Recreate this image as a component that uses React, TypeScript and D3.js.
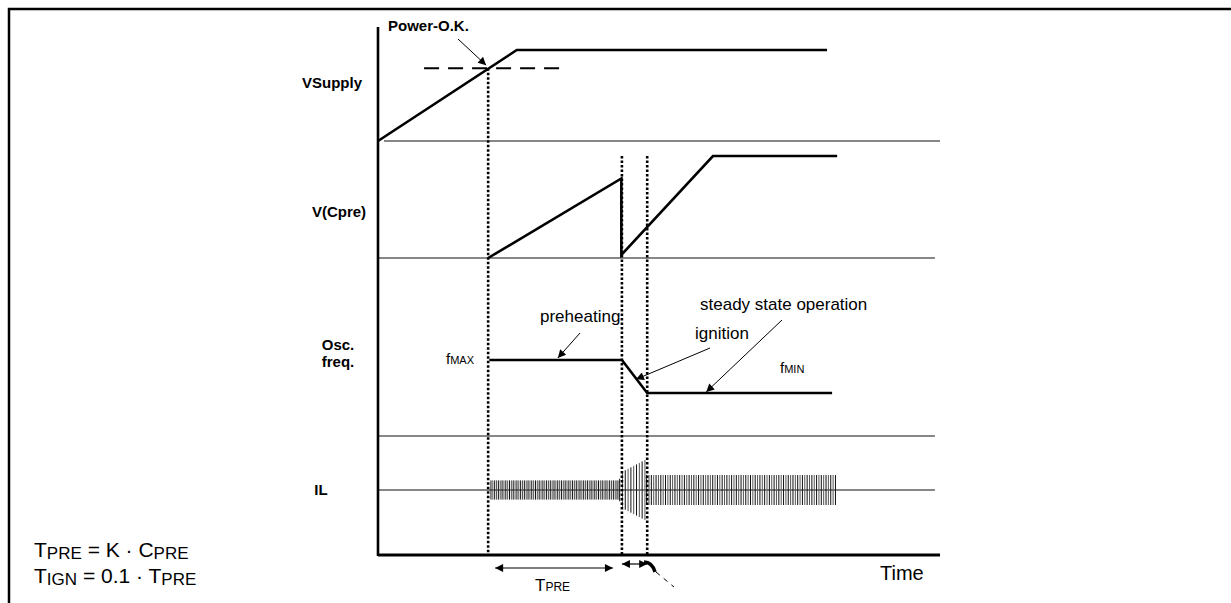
import React from 'react';
import * as d3 from 'd3';

const W = 1231;
const H = 603;
const FONT = '"Liberation Sans", Arial, sans-serif';

// time runs 0..100 (arbitrary units) along the bottom axis
const supplyT = [0, 24.7, 79.9];
const supplyV = [0, 1, 1];
const powerOkLevel = 0.8;
const powerOkSpan = [8.2, 32.7];

const cpreT = [19.6, 43.3, 43.3, 59.6, 81.7];
const cpreV = [0, 0.78, 0.03, 1, 1];

const freqT = [19.8, 43.4, 47.9, 80.8];
const freqV = [0.76, 0.76, 0.43, 0.43];

// lamp current envelope and cycle period per phase (preheat, ignition, steady)
const ilEnvT = [20.1, 42.9, 43.4, 47.5, 47.8, 81.5];
const ilEnvA = [0.32, 0.32, 0.6, 1.0, 0.5, 0.5];
const ilPhaseT = [20.1, 43.0, 47.8, 81.5];
const ilPeriod = [0.33, 0.5, 0.42];

// power-ok, end of preheat, end of ignition
const markerT = [19.6, 43.4, 47.9];

const laneLabels = ['VSupply', 'V(Cpre)', 'Osc.', 'freq.', 'IL'];
const notes = ['Power-O.K.', 'preheating', 'ignition', 'steady state operation'];

export default function App() {
  const x = d3.scaleLinear().domain([0, 100]).range([378, 940]);
  const ySup = d3.scaleLinear().domain([0, 1]).range([141, 50]);
  const yCpre = d3.scaleLinear().domain([0, 1]).range([258, 156]);
  const yFreq = d3.scaleLinear().domain([0, 1]).range([436, 336]);
  const yIL = d3.scaleLinear().domain([-1, 1]).range([520, 460]);
  const env = d3.scaleLinear().domain(ilEnvT).range(ilEnvA).clamp(true);

  const mk = (ts: number[], vs: number[], y: d3.ScaleLinear<number, number>) =>
    d3.line<number>().x((_, i) => x(ts[i])).y((v) => y(v))(vs) as string;

  const cycles: { t: number; k: number }[] = [];
  ilPeriod.forEach((p, i) => {
    d3.range(ilPhaseT[i], ilPhaseT[i + 1], p).forEach((t, k) => cycles.push({ t, k }));
  });

  const yAxisBottom = 555;
  const trace = { fill: 'none', stroke: '#000', strokeWidth: 2.6 };
  const thin = { stroke: '#111', strokeWidth: 1.1 };
  const bold = { fontFamily: FONT, fontWeight: 700, fontSize: 15 };
  const plain = { fontFamily: FONT, fontSize: 17 };

  const pokX = x(markerT[0]);
  const pokY = ySup(powerOkLevel);
  const ignMid = (markerT[1] + markerT[2]) / 2 + 0.3;
  const freqSlope = d3.scaleLinear().domain([freqT[1], freqT[2]]).range([freqV[1], freqV[2]]);

  return (
    <svg width={W} height={H} style={{ position: 'absolute', left: 0, top: 0, background: '#fff' }}>
      <defs>
        <marker id="ah" viewBox="0 0 10 10" refX="10" refY="5" markerWidth="11" markerHeight="8"
          markerUnits="userSpaceOnUse" orient="auto-start-reverse">
          <path d="M0,0 L10,5 L0,10 z" fill="#000" />
        </marker>
      </defs>

      {/* frame */}
      <path d={`M9,${H} V9 H${W}`} fill="none" stroke="#000" strokeWidth={2.5} />

      {/* lane baselines */}
      <line x1={384} x2={x(100)} y1={ySup(0)} y2={ySup(0)} {...thin} />
      <line x1={x(0)} x2={x(99.1)} y1={yCpre(0)} y2={yCpre(0)} {...thin} />
      <line x1={x(0)} x2={x(99.1)} y1={yFreq(0)} y2={yFreq(0)} {...thin} />
      <line x1={x(0)} x2={x(99.1)} y1={yIL(0)} y2={yIL(0)} {...thin} />

      {/* IL oscillation */}
      <g>
        {cycles.map((c, i) => {
          const a = env(c.t);
          return (
            <line key={i} x1={x(c.t)} x2={x(c.t)} y1={yIL(-a)} y2={yIL(a)}
              stroke={c.k % 2 ? '#555' : '#111'} strokeWidth={1} />
          );
        })}
      </g>

      {/* dotted markers */}
      {markerT.map((t, i) => (
        <line key={i} x1={x(t)} x2={x(t)} y1={i === 0 ? pokY : yCpre(1)} y2={yAxisBottom}
          stroke="#000" strokeWidth={2.6} strokeDasharray="2.5,2" />
      ))}

      {/* power ok threshold */}
      <line x1={x(powerOkSpan[0])} x2={x(powerOkSpan[1])} y1={pokY} y2={pokY}
        stroke="#000" strokeWidth={2} strokeDasharray="15,9" />

      {/* traces */}
      <path d={mk(supplyT, supplyV, ySup)} {...trace} />
      <path d={mk(cpreT, cpreV, yCpre)} {...trace} />
      <path d={mk(freqT, freqV, yFreq)} {...trace} />

      {/* axes */}
      <line x1={x(0)} x2={x(0)} y1={27} y2={yAxisBottom + 1} stroke="#000" strokeWidth={2.6} />
      <line x1={x(0)} x2={x(100)} y1={yAxisBottom} y2={yAxisBottom} stroke="#000" strokeWidth={3} />

      {/* lane labels */}
      <text x={332} y={88} textAnchor="middle" {...bold}>{laneLabels[0]}</text>
      <text x={339} y={217} textAnchor="middle" {...bold}>{laneLabels[1]}</text>
      <text x={338} y={350} textAnchor="middle" {...bold}>{laneLabels[2]}</text>
      <text x={338} y={367} textAnchor="middle" {...bold}>{laneLabels[3]}</text>
      <text x={321} y={495} textAnchor="middle" {...bold}>{laneLabels[4]}</text>

      {/* annotations */}
      <text x={388} y={31} {...bold}>{notes[0]}</text>
      <line x1={458} y1={39} x2={pokX - 2} y2={pokY - 3} stroke="#000" strokeWidth={1} markerEnd="url(#ah)" />

      <text x={540} y={322} {...plain}>{notes[1]}</text>
      <line x1={580} y1={333} x2={x(32)} y2={yFreq(freqV[0]) - 2} stroke="#000" strokeWidth={1} markerEnd="url(#ah)" />

      <text x={695} y={339} {...plain}>{notes[2]}</text>
      <line x1={710} y1={348} x2={x(45.9)} y2={yFreq(freqSlope(45.9)) + 1} stroke="#000" strokeWidth={1} markerEnd="url(#ah)" />

      <text x={700} y={310} {...plain}>{notes[3]}</text>
      <line x1={782} y1={320} x2={x(58.4)} y2={yFreq(freqV[3]) - 1} stroke="#000" strokeWidth={1} markerEnd="url(#ah)" />

      <text x={446} y={364} fontFamily={FONT} fontSize={15}>f<tspan fontSize={11}>MAX</tspan></text>
      <text x={780} y={373} fontFamily={FONT} fontSize={15}>f<tspan fontSize={11}>MIN</tspan></text>

      {/* time spans */}
      <line x1={x(markerT[0]) + 7} x2={x(markerT[1]) - 9} y1={568} y2={568} stroke="#000" strokeWidth={1.2}
        markerStart="url(#ah)" markerEnd="url(#ah)" />
      <text x={535} y={591} fontFamily={FONT} fontSize={17}>T<tspan fontSize={12}>PRE</tspan></text>

      <line x1={x(markerT[1])} x2={x(ignMid)} y1={564} y2={564} stroke="#000" strokeWidth={1.2} markerStart="url(#ah)" />
      <line x1={x(ignMid)} x2={x(markerT[2])} y1={564} y2={564} stroke="#000" strokeWidth={1.2} markerEnd="url(#ah)" />
      <path d="M644,562 Q652,562 655,572" fill="none" stroke="#000" strokeWidth={3.5} />
      <line x1={656} y1={572} x2={674} y2={587} stroke="#000" strokeWidth={1} strokeDasharray="5,5" />

      <text x={880} y={580} fontFamily={FONT} fontSize={20}>Time</text>

      {/* formulas */}
      <text x={34} y={557} fontFamily={FONT} fontSize={21}>
        T<tspan fontSize={17} dy={2}>PRE</tspan><tspan dy={-2}> = K · C</tspan><tspan fontSize={17} dy={2}>PRE</tspan>
      </text>
      <text x={34} y={583} fontFamily={FONT} fontSize={21}>
        T<tspan fontSize={17} dy={2}>IGN</tspan><tspan dy={-2}> = 0.1 · T</tspan><tspan fontSize={17} dy={2}>PRE</tspan>
      </text>
    </svg>
  );
}
